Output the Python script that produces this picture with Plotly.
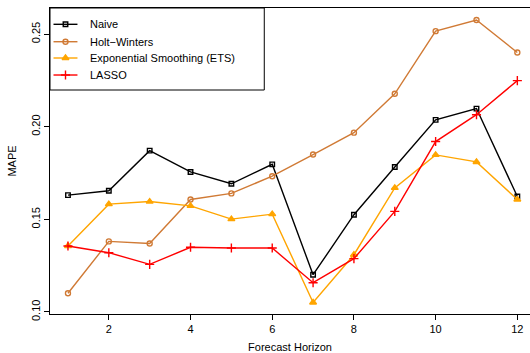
import plotly.graph_objects as go

horizon = list(range(1, 13))
naive = [0.1631, 0.1654, 0.1871, 0.1756, 0.1692, 0.1797, 0.1201, 0.1525, 0.1783, 0.2037, 0.2098, 0.1623]
holt_winters = [0.1101, 0.1381, 0.1370, 0.1607, 0.1640, 0.1733, 0.1850, 0.1968, 0.2178, 0.2516, 0.2576, 0.2401]
ets = [0.1356, 0.1582, 0.1596, 0.1573, 0.1501, 0.1528, 0.1051, 0.1309, 0.1670, 0.1848, 0.1810, 0.1607]
lasso = [0.1356, 0.1320, 0.1257, 0.1349, 0.1345, 0.1345, 0.1158, 0.1288, 0.1543, 0.1920, 0.2065, 0.2249]

names = ["Naive", "Holt\u2212Winters", "Exponential Smoothing (ETS)", "LASSO"]
series = [naive, holt_winters, ets, lasso]
colors = ["#000000", "#D07A35", "#FFA500", "#FF0000"]
symbols = ["square-open", "circle-open", "triangle-up", "cross-thin-open"]
msizes = [4.5, 5, 6, 6.5]

FONT = "Liberation Sans, Arial, Helvetica, sans-serif"

fig = go.Figure()
for nm, vals, c, s, ms in zip(names, series, colors, symbols, msizes):
    fig.add_trace(go.Scatter(
        x=horizon, y=vals, mode="lines+markers", name=nm, showlegend=False,
        line=dict(color=c, width=1.4),
        marker=dict(symbol=s, size=ms, color=c, line=dict(color=c, width=1.4)),
        cliponaxis=False,
    ))

# manual legend (layout positions in paper coordinates)
leg_y = [0.9467, 0.8898, 0.8366, 0.7810]
for nm, c, s, ms, yy in zip(names, colors, symbols, msizes, leg_y):
    fig.add_trace(go.Scatter(
        x=[0.0073, 0.0572], y=[yy, yy], mode="lines", xaxis="x2", yaxis="y2",
        line=dict(color=c, width=1.4), showlegend=False, hoverinfo="skip"))
    fig.add_trace(go.Scatter(
        x=[0.0323], y=[yy], mode="markers", xaxis="x2", yaxis="y2",
        marker=dict(symbol=s, size=ms, color=c, line=dict(color=c, width=1.4)),
        showlegend=False, hoverinfo="skip"))
    fig.add_annotation(x=0.0801, y=yy, xref="paper", yref="paper", text=nm,
                       showarrow=False, xanchor="left", yanchor="middle",
                       font=dict(family=FONT, size=11, color="#000000"))

fig.add_shape(type="rect", xref="paper", yref="paper", x0=0, x1=0.4464, y0=0.732, y1=1,
              line=dict(color="#000000", width=1), fillcolor="white", layer="below")

fig.update_layout(
    width=530, height=353,
    margin=dict(l=49.5, r=0, t=8, b=39),
    paper_bgcolor="white", plot_bgcolor="white",
    font=dict(family=FONT, size=11, color="#000000"),
    xaxis=dict(range=[0.56, 12.31], tickvals=[2, 4, 6, 8, 10, 12], ticks="outside",
               ticklen=5, tickcolor="#000000", showgrid=False, zeroline=False,
               showline=True, linecolor="#000000", linewidth=1, mirror=True,
               title=dict(text="Forecast Horizon", font=dict(size=11), standoff=9)),
    yaxis=dict(range=[0.0989, 0.2641], tickvals=[0.10, 0.15, 0.20, 0.25],
               ticktext=["0.10", "0.15", "0.20", "0.25"], tickangle=-90,
               ticks="outside", ticklen=5, tickcolor="#000000", showgrid=False,
               zeroline=False, showline=True, linecolor="#000000", linewidth=1,
               title=dict(text="MAPE", font=dict(size=11), standoff=10)),
    xaxis2=dict(range=[0, 1], overlaying="x", visible=False, anchor="y2"),
    yaxis2=dict(range=[0, 1], overlaying="y", visible=False, anchor="x2"),
)

fig.write_html("out.html")
